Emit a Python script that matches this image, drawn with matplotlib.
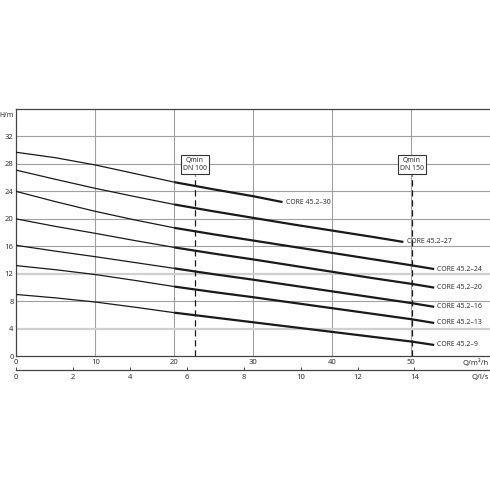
import matplotlib
matplotlib.use("Agg")
import matplotlib.pyplot as plt
import numpy as np

plt.rcParams['font.family'] = ['Noto Sans', 'DejaVu Sans']

# Flow (m³/h) and head (m) for each pump curve
q_std = [0, 5, 10, 15, 20, 25, 30, 35, 40, 45, 50, 52.9]

curves = {
    "CORE 45.2–30": ([0, 5, 10, 15, 20, 25, 30, 33.7],
                     [29.7, 28.9, 27.85, 26.6, 25.35, 24.3, 23.3, 22.45]),
    "CORE 45.2–27": ([0, 5, 10, 15, 20, 25, 30, 35, 40, 45, 49.0],
                     [27.1, 25.75, 24.45, 23.25, 22.1, 21.1, 20.15, 19.2, 18.3, 17.4, 16.65]),
    "CORE 45.2–24": (q_std,
                     [24.0, 22.5, 21.1, 19.85, 18.7, 17.75, 16.85, 15.95, 15.05, 14.15, 13.25, 12.7]),
    "CORE 45.2–20": (q_std,
                     [20.0, 18.9, 17.9, 16.85, 15.85, 14.95, 14.1, 13.2, 12.3, 11.4, 10.55, 10.0]),
    "CORE 45.2–16": (q_std,
                     [16.15, 15.3, 14.5, 13.65, 12.8, 11.95, 11.15, 10.3, 9.45, 8.6, 7.75, 7.2]),
    "CORE 45.2–13": (q_std,
                     [13.2, 12.6, 11.9, 11.05, 10.15, 9.35, 8.6, 7.8, 7.0, 6.2, 5.4, 4.85]),
    "CORE 45.2–9": (q_std,
                    [9.0, 8.5, 7.9, 7.15, 6.35, 5.65, 4.95, 4.25, 3.55, 2.85, 2.15, 1.65]),
}

# Minimum flow markers (m³/h)
qmin_flows = [22.6, 50.1]
qmin_labels = ["Qmin\nDN 100", "Qmin\nDN 150"]

q_ticks = [0, 10, 20, 30, 40, 50]
h_ticks = [0, 4, 8, 12, 16, 20, 24, 28, 32]
ls_ticks = [0, 2, 4, 6, 8, 10, 12, 14]

Q_MAX, H_MAX = 60, 36
Q_THICK = 20  # operating range drawn heavier from here on

TXT = "#333333"
LINE = "#1a1a1a"

fig = plt.figure(figsize=(4.9, 4.9), dpi=100)
W = H = 490.0
ax = fig.add_axes([16.3 / W, 1 - 356.3 / H, 474 / W, (356.3 - 109) / H])
ax.set_xlim(0, Q_MAX)
ax.set_ylim(0, H_MAX)

# grid
for q in q_ticks[1:]:
    ax.axvline(q, color="#a0a0a0", lw=0.8, zorder=1)
for h in h_ticks[1:]:
    if h in (4, 12):
        ax.axhline(h, color="#d0d0d0", lw=1.6, zorder=1)
    else:
        ax.axhline(h, color="#a0a0a0", lw=0.8, zorder=1)

ax.spines["right"].set_visible(False)
for s in ["left", "top", "bottom"]:
    ax.spines[s].set_color("#444444")
    ax.spines[s].set_linewidth(0.9)

ax.set_xticks(q_ticks)
ax.set_yticks(h_ticks)
ax.tick_params(length=0, labelsize=5.5, labelcolor=TXT, pad=2)

# pump curves: thin below Q_THICK, heavy over the working range
for name, (q, h) in curves.items():
    q = np.asarray(q, float)
    h = np.asarray(h, float)
    ax.plot(q[q <= Q_THICK], h[q <= Q_THICK], color=LINE, lw=0.9,
            solid_capstyle="round", solid_joinstyle="round", zorder=3)
    ax.plot(q[q >= Q_THICK], h[q >= Q_THICK], color=LINE, lw=1.6,
            solid_capstyle="butt", solid_joinstyle="round", zorder=3)
    ax.text(q[-1] + 0.4, h[-1], name, fontsize=5, color=TXT,
            va="center", ha="left", zorder=4)

# minimum flow markers
for qm, lab in zip(qmin_flows, qmin_labels):
    ax.plot([qm, qm], [0, 26.4], color=LINE, lw=0.9, ls=(0, (5, 3)), zorder=2)
    ax.text(qm, 27.9, lab, fontsize=5, color=TXT, ha="center", va="center",
            linespacing=1.25, zorder=5,
            bbox=dict(boxstyle="square,pad=0.3", fc="white", ec="#333333", lw=0.8))

# axis captions
fig.text(14 / W, 1 - 115 / H, "H/m", fontsize=5, color=TXT, ha="right", va="center")
ax.annotate("Q/m³/h", xy=(1.0, 0), xycoords="axes fraction", xytext=(-1, -2),
            textcoords="offset points", fontsize=5.5, color=TXT, ha="right", va="top")

# secondary flow axis in l/s
ax2 = fig.add_axes([16.3 / W, 1 - 370 / H, 474 / W, 0.0001])
ax2.set_xlim(0, Q_MAX / 3.6)
for s in ["left", "right", "top"]:
    ax2.spines[s].set_visible(False)
ax2.spines["bottom"].set_color("#444444")
ax2.spines["bottom"].set_linewidth(0.9)
ax2.set_yticks([])
ax2.set_xticks(ls_ticks)
ax2.tick_params(axis="x", direction="in", length=2.5, width=0.7, color="#444444",
                labelsize=5.5, labelcolor=TXT, pad=3)
ax2.annotate("Q/l/s", xy=(1.0, 0), xycoords="axes fraction", xytext=(-1, -3),
             textcoords="offset points", fontsize=5.5, color=TXT, ha="right", va="top")

fig.savefig("out.png", dpi=100, facecolor="white")
